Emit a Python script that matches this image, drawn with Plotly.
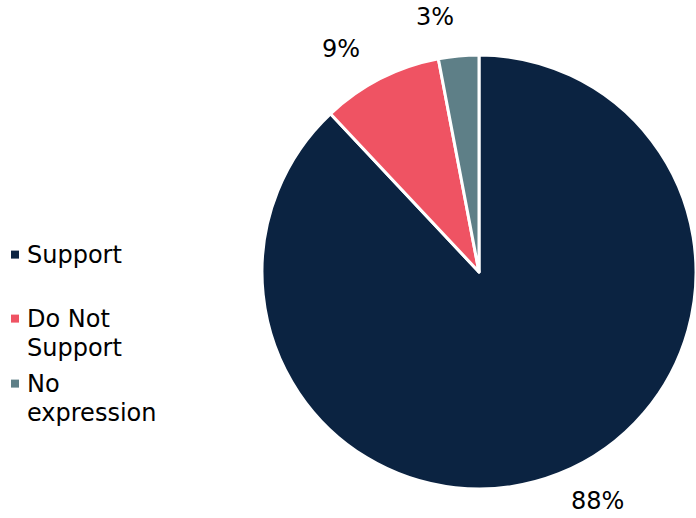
import math
import plotly.graph_objects as go

categories = ["Support", "Do Not Support", "No expression"]
legend_lines = [["Support"], ["Do Not", "Support"], ["No", "expression"]]
values = [88, 9, 3]
colors = ["#0B2341", "#EF5363", "#5E7F87"]

W, H = 696, 518
FONT = "DejaVu Sans"
FS = 24

dom_x = [262 / W, 1.0]
dom_y = [1 - 489 / H, 1 - 55 / H]

fig = go.Figure(go.Pie(
    labels=categories,
    values=values,
    sort=False,
    direction="clockwise",
    rotation=0,
    marker=dict(colors=colors, line=dict(color="white", width=3)),
    textinfo="none",
    domain=dict(x=dom_x, y=dom_y),
    hoverinfo="label+percent",
    showlegend=False,
))

annotations = []
shapes = []

# percentage labels placed outside each slice, derived from the slice angles
cx = W * (dom_x[0] + dom_x[1]) / 2
cy = H * (1 - (dom_y[0] + dom_y[1]) / 2)
R = min(W * (dom_x[1] - dom_x[0]), H * (dom_y[1] - dom_y[0])) / 2
total = sum(values)
cum = 0
for v in values:
    mid = (cum + v / 2) / total * 360 - 4
    cum += v
    ux = math.sin(math.radians(mid))
    uy = -math.cos(math.radians(mid))
    txt = f"{round(v / total * 100)}%"
    tw = (0.636 * (len(txt) - 1) + 0.95) * FS
    th = FS
    d = R + 31
    px = cx + (d + tw / 2) * ux
    py = cy + (d + th / 2) * uy
    py = max(17, min(H - 17, py))
    annotations.append(dict(
        x=px / W, y=1 - py / H, xref="paper", yref="paper",
        text=txt, showarrow=False, xanchor="center", yanchor="middle",
        font=dict(family=FONT, size=FS, color="#000000"),
    ))

# legend (square swatch + wrapped text)
item_y = [254.6, 318.6, 383.6]
line_pitch = 29.5
for lines, col, y0 in zip(legend_lines, colors, item_y):
    shapes.append(dict(
        type="rect", xref="paper", yref="paper",
        x0=11 / W, x1=19 / W, y0=1 - (y0 + 4) / H, y1=1 - (y0 - 4) / H,
        fillcolor=col, line=dict(width=0),
    ))
    for i, ln in enumerate(lines):
        annotations.append(dict(
            x=25 / W, y=1 - (y0 + i * line_pitch) / H, xref="paper", yref="paper",
            text=ln, showarrow=False, xanchor="left", yanchor="middle",
            font=dict(family=FONT, size=FS, color="#000000"),
        ))

fig.update_layout(
    width=W, height=H,
    margin=dict(l=0, r=0, t=0, b=0),
    paper_bgcolor="white",
    font=dict(family=FONT, size=FS, color="#000000"),
    showlegend=False,
    annotations=annotations,
    shapes=shapes,
)

fig.write_html("out.html")
